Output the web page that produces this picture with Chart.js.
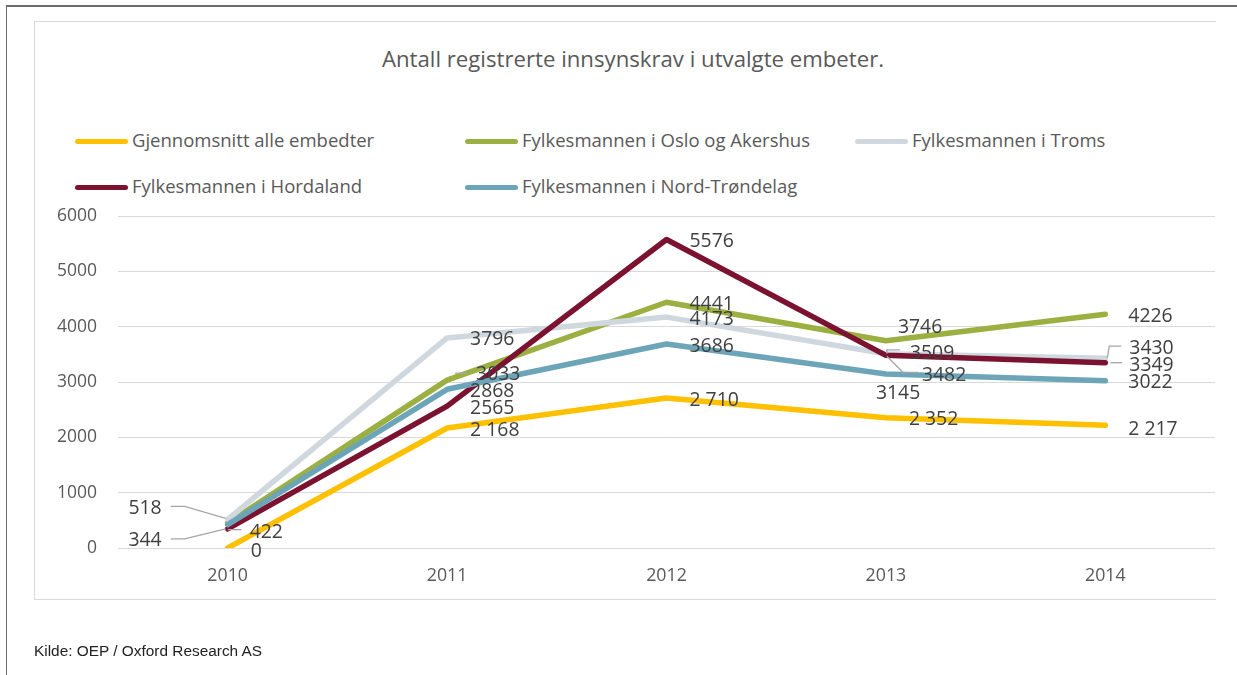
<!DOCTYPE html>
<html>
<head>
<meta charset="utf-8">
<script src="https://cdn.jsdelivr.net/npm/chart.js@4.4.1/dist/chart.umd.min.js"></script>
<style>
    body { margin: 0; background: #fff; }
    #page { position: relative; width: 1237px; height: 675px; overflow: hidden; font-family: "Open Sans", sans-serif; }
    #outerTop { position: absolute; left: 6px; top: 5px; width: 1231px; height: 2px; background: #6b6b6b; }
    #outerLeft { position: absolute; left: 6px; top: 5px; width: 1px; height: 670px; background: #6b6b6b; }
    #box { position: absolute; left: 34px; top: 21px; width: 1181px; height: 577px; border: 1px solid #d9d9d9; border-right: none; }
    #title { position: absolute; left: 0; width: 1266px; top: 44px; line-height: 30px; text-align: center; font-size: 22.2px; color: #595959; }
    .legend-item { position: absolute; font-size: 18.5px; color: #595959; white-space: nowrap; line-height: 24px; }
    .legend-item span.swatch { display: inline-block; width: 53px; height: 5px; border-radius: 3px; vertical-align: middle; margin-right: 4px; position: relative; top: -1px; }
    #source { position: absolute; left: 34px; top: 642px; font-family: "Liberation Sans", Arial, sans-serif; font-size: 15.4px; color: #222; }
    #chart { position: absolute; left: 0; top: 0; }
</style>
</head>
<body>
<div id="page">
    <div id="outerTop"></div>
    <div id="outerLeft"></div>
    <div id="box"></div>
    <div id="title">Antall registrerte innsynskrav i utvalgte embeter.</div>
    <div id="legend"></div>
    <canvas id="chart" width="1237" height="675"></canvas>
    <div id="source">Kilde: OEP / Oxford Research AS</div>
</div>
<script>
// Data
const years = ['2010', '2011', '2012', '2013', '2014'];
const seriesNames = [
    'Gjennomsnitt alle embedter',
    'Fylkesmannen i Oslo og Akershus',
    'Fylkesmannen i Troms',
    'Fylkesmannen i Hordaland',
    'Fylkesmannen i Nord-Trøndelag'
];
const gjennomsnitt = [0, 2168, 2710, 2352, 2217];
const osloAkershus = [450, 3033, 4441, 3746, 4226];
const troms = [518, 3796, 4173, 3509, 3430];
const hordaland = [344, 2565, 5576, 3482, 3349];
const nordTrondelag = [422, 2868, 3686, 3145, 3022];
const yTicks = [0, 1000, 2000, 3000, 4000, 5000, 6000];

const seriesValues = [gjennomsnitt, osloAkershus, troms, hordaland, nordTrondelag];
const seriesColors = ['#FFC000', '#9BB040', '#D0D8DF', '#7B1230', '#6DA5B8'];
// series whose labels use a space as thousands separator
const spacedSeries = [0];

// Manual label placement (Excel-style), keyed "series,point"
const labelNudge = {
    '0,0': { dy: 1 },
    '1,0': { hide: true },
    '2,0': { dx: -66, dy: -13, align: 'right', leader: [[-2, -1], [-43, -13], [-57, -13]] },
    '3,0': { dx: -66, dy: 10, align: 'right', leader: [[-2, 0], [-43, 10], [-57, 10]] },
    '4,0': { dx: 22, dy: 6, leader: [[0, 5], [14, 5]] },
    '1,1': { dx: 29, dy: -8, leader: [[8, -7], [20, -7]] },
    '1,3': { dx: 12, dy: -15 },
    '2,3': { dx: 24, dy: -2, leader: [[1, 0], [1, -4], [14, -4]] },
    '3,3': { dx: 36, dy: 18, leader: [[1, 1], [17, 17], [32, 17]] },
    '4,3': { dx: -10, dy: 18 },
    '2,4': { dx: 24, dy: -12, leader: [[2, 0], [4, -12], [16, -12]] },
    '3,4': { dx: 24, dy: 1, leader: [[5, 0], [17, 0]] },
    '0,4': { dy: 2 }
};

// Legend (HTML)
const legendPos = [[75, 128], [465, 128], [855, 128], [75, 174], [465, 174]];
const legendEl = document.getElementById('legend');
seriesNames.forEach((name, i) => {
    const div = document.createElement('div');
    div.className = 'legend-item';
    div.style.left = legendPos[i][0] + 'px';
    div.style.top = legendPos[i][1] + 'px';
    div.innerHTML = `<span class="swatch" style="background:${seriesColors[i]}"></span>${name}`;
    legendEl.appendChild(div);
});

function formatValue(v, spaced) {
    if (!spaced) return String(v);
    return String(v).replace(/\B(?=(\d{3})+(?!\d))/g, ' ');
}

const valueLabels = {
    id: 'valueLabels',
    afterDatasetsDraw(chart) {
        const ctx = chart.ctx;
        ctx.save();
        ctx.font = '19.4px "Open Sans"';
        ctx.fillStyle = '#404040';
        ctx.textBaseline = 'middle';
        chart.data.datasets.forEach((ds, s) => {
            const meta = chart.getDatasetMeta(s);
            meta.data.forEach((pt, i) => {
                const cfg = labelNudge[s + ',' + i] || {};
                if (cfg.hide) return;
                const dx = cfg.dx !== undefined ? cfg.dx : 23;
                const dy = cfg.dy || 0;
                if (cfg.leader) {
                    ctx.strokeStyle = '#a6a6a6';
                    ctx.lineWidth = 1.3;
                    ctx.beginPath();
                    cfg.leader.forEach((p, k) => {
                        if (k === 0) ctx.moveTo(pt.x + p[0], pt.y + p[1]);
                        else ctx.lineTo(pt.x + p[0], pt.y + p[1]);
                    });
                    ctx.stroke();
                }
                ctx.textAlign = cfg.align || 'left';
                // +2 compensates the font's middle baseline sitting a bit high
                ctx.fillText(formatValue(ds.data[i], spacedSeries.includes(s)), pt.x + dx, pt.y + dy + 2);
            });
        });
        ctx.restore();
    }
};

new Chart(document.getElementById('chart').getContext('2d'), {
    type: 'line',
    data: {
        labels: years,
        datasets: seriesNames.map((name, i) => ({
            label: name,
            data: seriesValues[i],
            borderColor: seriesColors[i],
            backgroundColor: seriesColors[i],
            borderWidth: 5.5,
            borderCapStyle: 'round',
            borderJoinStyle: 'round',
            pointRadius: 0,
            tension: 0,
            order: seriesNames.length - i
        }))
    },
    options: {
        responsive: false,
        animation: false,
        layout: { padding: { top: 216, right: 22, left: 0, bottom: 0 } },
        plugins: {
            legend: { display: false },
            title: { display: false },
            tooltip: { enabled: false }
        },
        scales: {
            x: {
                offset: true,
                grid: { display: false, drawTicks: false, offset: true },
                border: { display: false },
                ticks: { color: '#595959', font: { family: 'Open Sans', size: 17.8 }, padding: 17 },
                afterFit(scale) { scale.height = 127; }
            },
            y: {
                min: 0,
                max: 6000,
                afterBuildTicks(scale) { scale.ticks = yTicks.map(v => ({ value: v })); },
                grid: { color: '#d9d9d9', lineWidth: 1, drawTicks: false },
                border: { display: false },
                ticks: {
                    color: '#595959',
                    font: { family: 'Open Sans', size: 17.5 },
                    padding: 21,
                    callback: (v) => String(v)
                },
                afterFit(scale) { scale.width = 118; }
            }
        }
    },
    plugins: [valueLabels]
});
</script>
</body>
</html>
